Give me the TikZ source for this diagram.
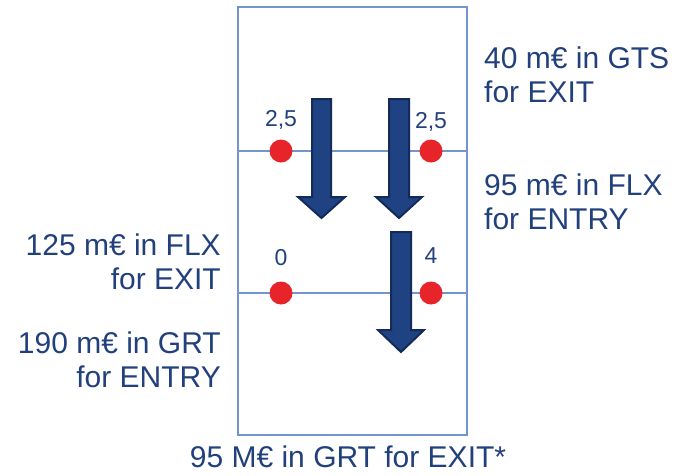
\documentclass[tikz,border=0pt]{standalone}
\usepackage{fontspec}
\setmainfont{Liberation Sans}
\definecolor{txtblue}{RGB}{34,64,124}
\definecolor{arrblue}{RGB}{31,66,130}
\definecolor{arredge}{RGB}{20,42,88}
\definecolor{lineblue}{RGB}{115,148,206}
\definecolor{dotred}{RGB}{230,36,42}
\tikzset{
  bigtext/.style={text=txtblue, inner sep=0pt, font=\fontsize{30}{34}\selectfont},
  smalltext/.style={text=txtblue, inner sep=0pt, font=\fontsize{23}{26}\selectfont},
  reddot/.style={circle, fill=dotred, minimum size=23pt, inner sep=0pt},
  downarrow/.style={fill=arrblue, draw=arredge, line width=2pt, line join=miter}
}
\begin{document}
\begin{tikzpicture}[x=1pt,y=-1pt]
\useasboundingbox (0,0) rectangle (679,475);
% frame and levels
\draw[lineblue, line width=1.3pt] (238,7) rectangle (467,435);
\draw[lineblue, line width=1.2pt] (238,151) -- (467,151);
\draw[lineblue, line width=1.2pt] (238,293) -- (467,293);
% flows
\draw[downarrow] (312,99) -- (331,99) -- (331,197) -- (345,197) -- (321.5,218) -- (298,197) -- (312,197) -- cycle;
\draw[downarrow] (389,99) -- (409,99) -- (409,197) -- (422,197) -- (399,218) -- (376,197) -- (389,197) -- cycle;
\draw[downarrow] (391,232) -- (411,232) -- (411,330) -- (424,330) -- (401,352) -- (378,330) -- (391,330) -- cycle;
% points
\node[reddot] (p1) at (281,151) {};
\node[reddot] (p2) at (431,151) {};
\node[reddot] (p3) at (281,293) {};
\node[reddot] (p4) at (431,293) {};
\node[smalltext] (v1) at (281,120) {2,5};
\node[smalltext] (v2) at (431,122) {2,5};
\node[smalltext] (v3) at (281,258) {0};
\node[smalltext] (v4) at (431,256) {4};
% capacities
\node[bigtext, align=left, anchor=west] (gts) at (484,75) {40 m€ in GTS\\for EXIT};
\node[bigtext, align=left, anchor=west] (flx) at (484,202) {95 m€ in FLX\\for ENTRY};
\node[bigtext, align=right, anchor=east] (flxexit) at (221,262) {125 m€ in FLX\\for EXIT};
\node[bigtext, align=right, anchor=east] (grt) at (221,360) {190 m€ in GRT\\for ENTRY};
\node[bigtext] (grtexit) at (348,457) {95 M€ in GRT for EXIT*};
\end{tikzpicture}
\end{document}
